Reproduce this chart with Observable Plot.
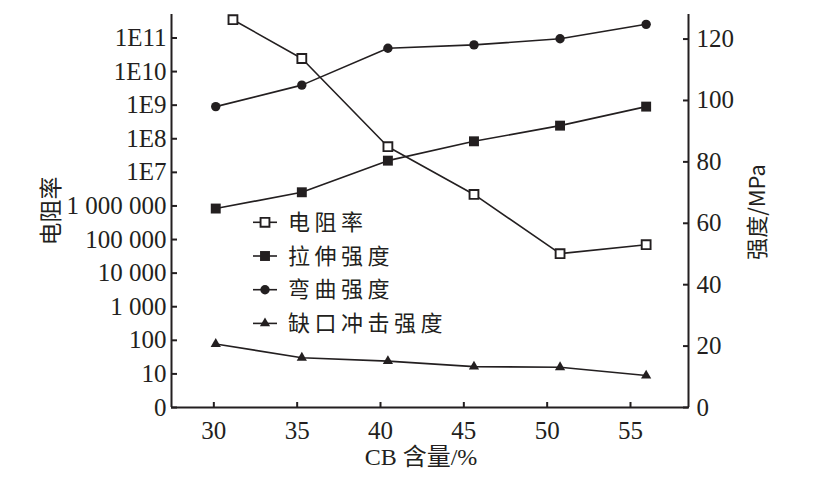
<!DOCTYPE html>
<html><head><meta charset="utf-8">
<script src="https://cdn.jsdelivr.net/npm/d3@7"></script>
<script src="https://cdn.jsdelivr.net/npm/@observablehq/plot@0.6"></script>
<style>
html,body{margin:0;padding:0;background:#fff;overflow:hidden}
#chart{position:relative;width:820px;height:491px}
#chart svg{position:absolute;left:0;top:0}
</style></head><body><div id="chart"></div>
<script>
// ---- data ----
const cbContent = [30, 35, 40, 45, 50, 55];
const resistivityX = [31, 35, 40, 45, 50, 55];
const resistivity = [3.5e11, 2.45e10, 5.8e7, 2.2e6, 3.8e4, 7.0e4];
const tensile = [64.8, 70.1, 80.4, 86.7, 91.8, 98.0];
const flexural = [98.0, 105.0, 117.0, 118.1, 120.1, 124.8];
const impact = [20.7, 16.2, 15.1, 13.3, 13.1, 10.4];
const seriesNames = ["电阻率", "拉伸强度", "弯曲强度", "缺口冲击强度"];
const xTicks = [30, 35, 40, 45, 50, 55];
const leftTickValues = [1, 1e1, 1e2, 1e3, 1e4, 1e5, 1e6, 1e7, 1e8, 1e9, 1e10, 1e11];
const leftTickLabels = ["0", "10", "100", "1 000", "10 000", "100 000", "1 000 000", "1E7", "1E8", "1E9", "1E10", "1E11"];
const rightTicks = [0, 20, 40, 60, 80, 100, 120];
const xTitle = "CB 含量/%";
const leftTitle = "电阻率";
const rightTitle = "强度/MPa";

// ---- layout ----
const W = 820, H = 491;
const M = {marginTop: 14, marginRight: 132, marginBottom: 84, marginLeft: 171};
const axisXDomain = [27.46, 58.48];
const dataXDomain = [27.43, 57.46];
const logDomain = [1, 5e11];
const strengthDomain = [0, 128];
const INK = "#231f20";
const SERIF = '"Liberation Serif","Noto Sans CJK SC",serif';
const CJK = '"Noto Sans CJK SC",sans-serif';
const baseStyle = {fontFamily: SERIF, fontSize: "25px", color: INK, overflow: "visible"};

const labelOf = new Map(leftTickValues.map((v, i) => [v, leftTickLabels[i]]));

// base: axes, frame lines, titles
const base = Plot.plot({
  width: W, height: H, ...M,
  style: {...baseStyle, background: "white"},
  x: {domain: axisXDomain},
  y: {type: "log", domain: logDomain},
  marks: [
    Plot.axisX({ticks: xTicks, tickSize: -5, tickPadding: 19, strokeWidth: 2, stroke: INK, fill: INK, label: null, fontFamily: SERIF, tickFormat: d => String(d)}),
    Plot.axisY({anchor: "left", ticks: leftTickValues, tickSize: -6, tickPadding: 11, strokeWidth: 2, stroke: INK, fill: INK, label: null, fontFamily: SERIF, tickFormat: d => labelOf.get(d)}),
    Plot.ruleY([logDomain[0]], {stroke: INK, strokeWidth: 2}),
    Plot.ruleX([axisXDomain[0]], {stroke: INK, strokeWidth: 2}),
    Plot.ruleX([axisXDomain[1]], {stroke: INK, strokeWidth: 2}),
    Plot.text([xTitle], {text: d => d, frameAnchor: "bottom", textAnchor: "middle", dx: -9, dy: 57, fontSize: 24, fontFamily: SERIF, fill: INK}),
    Plot.text([leftTitle], {text: d => d, frameAnchor: "left", textAnchor: "middle", rotate: -90, dx: -120, dy: 0, fontSize: 23, fontFamily: CJK, fill: INK}),
    Plot.text([rightTitle], {text: d => d, frameAnchor: "right", textAnchor: "middle", rotate: -90, dx: 69, dy: 1, fontSize: 22, fontFamily: CJK, fill: INK})
  ]
});

// strength series (right axis)
const strengthRows = [
  ...cbContent.map((x, i) => ({x, v: tensile[i], s: seriesNames[1]})),
  ...cbContent.map((x, i) => ({x, v: flexural[i], s: seriesNames[2]})),
  ...cbContent.map((x, i) => ({x, v: impact[i], s: seriesNames[3]}))
];
const strength = Plot.plot({
  width: W, height: H, ...M,
  style: {...baseStyle, background: "transparent"},
  x: {domain: dataXDomain, axis: null},
  y: {domain: strengthDomain, axis: null},
  marks: [
    Plot.axisY({anchor: "right", ticks: rightTicks, tickSize: -6, tickPadding: 14, strokeWidth: 2, stroke: INK, fill: INK, label: null, fontFamily: SERIF}),
    Plot.line(strengthRows, {x: "x", y: "v", z: "s", stroke: INK, strokeWidth: 1.6}),
    Plot.dot(strengthRows.filter(d => d.s === seriesNames[1]), {x: "x", y: "v", symbol: d3.symbolSquare, r: 5.6, fill: INK, stroke: "none"}),
    Plot.dot(strengthRows.filter(d => d.s === seriesNames[2]), {x: "x", y: "v", symbol: d3.symbolCircle, r: 4.7, fill: INK, stroke: "none"}),
    Plot.dot(strengthRows.filter(d => d.s === seriesNames[3]), {x: "x", y: "v", symbol: d3.symbolTriangle, r: 3.8, fill: INK, stroke: "none"})
  ]
});

// resistivity (left log axis)
const resRows = resistivityX.map((x, i) => ({x, v: resistivity[i]}));
const res = Plot.plot({
  width: W, height: H, ...M,
  style: {...baseStyle, background: "transparent"},
  x: {domain: dataXDomain, axis: null},
  y: {type: "log", domain: logDomain, axis: null},
  marks: [
    Plot.line(resRows, {x: "x", y: "v", stroke: INK, strokeWidth: 1.6}),
    Plot.dot(resRows, {x: "x", y: "v", symbol: d3.symbolSquare, r: 5.0, fill: "white", stroke: INK, strokeWidth: 1.9})
  ]
});

const chart = document.getElementById("chart");
chart.append(base, strength, res);

// legend
const legendSymbols = [
  {type: d3.symbolSquare, size: 25 * Math.PI, fill: "white", stroke: INK, sw: 1.9},
  {type: d3.symbolSquare, size: 5.6 * 5.6 * Math.PI, fill: INK, stroke: "none", sw: 0},
  {type: d3.symbolCircle, size: 4.7 * 4.7 * Math.PI, fill: INK, stroke: "none", sw: 0},
  {type: d3.symbolTriangle, size: 3.8 * 3.8 * Math.PI, fill: INK, stroke: "none", sw: 0}
];
const lg = d3.select(res).append("g");
seriesNames.forEach((name, i) => {
  const y = 222.3 + i * 33.7;
  const g = lg.append("g").attr("transform", `translate(0,${y})`);
  g.append("line").attr("x1", 253).attr("x2", 277).attr("y1", 0).attr("y2", 0).attr("stroke", INK).attr("stroke-width", 1.6);
  const s = legendSymbols[i];
  g.append("path").attr("transform", "translate(265,0)").attr("d", d3.symbol(s.type, s.size)())
    .attr("fill", s.fill).attr("stroke", s.stroke).attr("stroke-width", s.sw);
  g.append("text").attr("x", 288).attr("y", 0).attr("dy", "0.35em").attr("text-anchor", "start")
    .attr("font-family", CJK).attr("font-size", 22).attr("letter-spacing", "4.5px").attr("fill", INK).text(name);
});
</script></body></html>
